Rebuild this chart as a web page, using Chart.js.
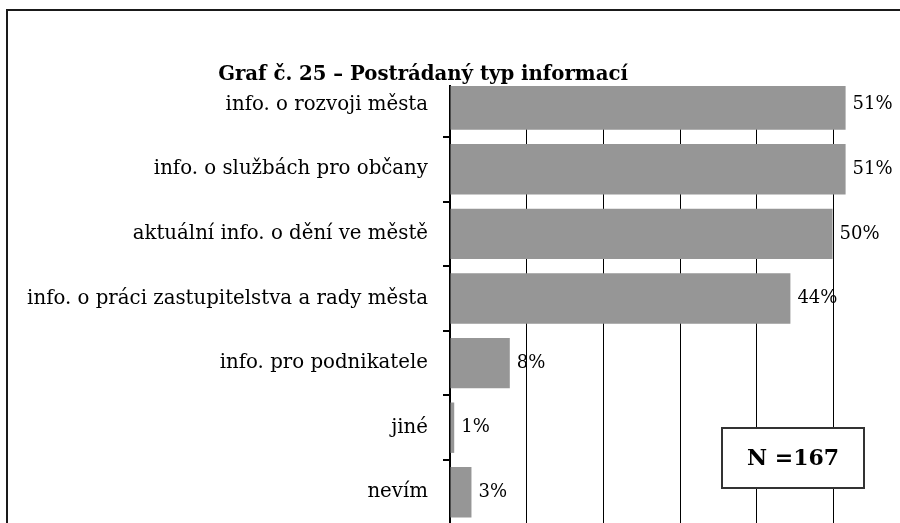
<!DOCTYPE html>
<html>
<head>
<meta charset="utf-8">
<script src="https://cdn.jsdelivr.net/npm/chart.js@4"></script>
<style>
  html, body { margin: 0; padding: 0; overflow: hidden; background: #fff; }
  canvas { display: block; }
</style>
</head>
<body>
<canvas id="graf" width="960" height="523"></canvas>
<script>
const chartTitle = 'Graf č. 25 – Postrádaný typ informací';
const categories = [
  'info. o rozvoji města',
  'info. o službách pro občany',
  'aktuální info. o dění ve městě',
  'info. o práci zastupitelstva a rady města',
  'info. pro podnikatele',
  'jiné',
  'nevím'
];
const percentValues = [51.6, 51.6, 49.9, 44.4, 7.8, 0.55, 2.8];
const percentLabels = ['51%', '51%', '50%', '44%', '8%', '1%', '3%'];
const sampleNote = 'N =167';

const serif = '"DejaVu Serif", "Liberation Serif", serif';

// bars sit on a linear index axis so the cropped first/last rows match the original
const barData = percentValues.map((v, i) => ({ x: v, y: i }));

const extrasPlugin = {
  id: 'extras',
  afterDatasetsDraw(chart) {
    const ctx = chart.ctx;
    const meta = chart.getDatasetMeta(0);
    ctx.save();
    ctx.fillStyle = '#000';
    ctx.font = '18px ' + serif;
    ctx.textAlign = 'left';
    ctx.textBaseline = 'middle';
    meta.data.forEach((bar, i) => {
      ctx.fillText(percentLabels[i], bar.x + 7, bar.y);
    });
    ctx.restore();
  },
  afterDraw(chart) {
    const ctx = chart.ctx;
    ctx.save();
    // outer frame, only its left and top edges are inside the picture
    ctx.strokeStyle = '#1a1a1a';
    ctx.lineWidth = 2;
    ctx.beginPath();
    ctx.moveTo(7, chart.height + 5);
    ctx.lineTo(7, 10);
    ctx.lineTo(chart.width + 5, 10);
    ctx.stroke();

    ctx.fillStyle = '#000';
    ctx.font = 'bold 19.7px ' + serif;
    ctx.textAlign = 'center';
    ctx.textBaseline = 'alphabetic';
    ctx.fillText(chartTitle, 423, 80);

    // N box
    ctx.fillStyle = '#fff';
    ctx.fillRect(722, 428, 142, 60);
    ctx.strokeStyle = '#333';
    ctx.lineWidth = 2;
    ctx.strokeRect(722, 428, 142, 60);
    ctx.fillStyle = '#000';
    ctx.font = 'bold 22px ' + serif;
    ctx.textBaseline = 'middle';
    ctx.fillText(sampleNote, 793, 459);
    ctx.restore();
  }
};

new Chart(document.getElementById('graf'), {
  type: 'bar',
  data: {
    labels: categories,
    datasets: [{
      data: barData,
      backgroundColor: '#969696',
      borderWidth: 0,
      categoryPercentage: 1,
      barPercentage: 0.78
    }]
  },
  options: {
    indexAxis: 'y',
    responsive: false,
    animation: false,
    layout: { padding: { top: 86, right: 50, bottom: 0, left: 0 } },
    plugins: {
      legend: { display: false },
      tooltip: { enabled: false }
    },
    scales: {
      x: {
        type: 'linear',
        min: 0,
        max: 60,
        ticks: { display: false, stepSize: 10 },
        grid: { color: '#000', lineWidth: 1, drawTicks: false },
        border: { display: false },
        afterFit(scale) {
          scale.height = 0;
          scale.paddingLeft = 0;
          scale.paddingRight = 0;
        }
      },
      y: {
        type: 'linear',
        reverse: true,
        offset: false,
        min: -0.289,
        max: 6.475,
        afterBuildTicks(scale) {
          scale.ticks = categories.map((c, i) => ({ value: i }));
        },
        ticks: {
          autoSkip: false,
          padding: 15,
          color: '#000',
          font: { family: serif, size: 19.75 },
          callback: (v) => categories[v]
        },
        grid: {
          offset: true,
          drawOnChartArea: false,
          drawTicks: true,
          tickLength: 7,
          color: '#000',
          lineWidth: 2
        },
        border: { display: true, color: '#000', width: 2 },
        afterFit(scale) {
          scale.width = 450;
          scale.paddingTop = 0;
          scale.paddingBottom = 0;
        }
      }
    }
  },
  plugins: [extrasPlugin]
});
</script>
</body>
</html>
